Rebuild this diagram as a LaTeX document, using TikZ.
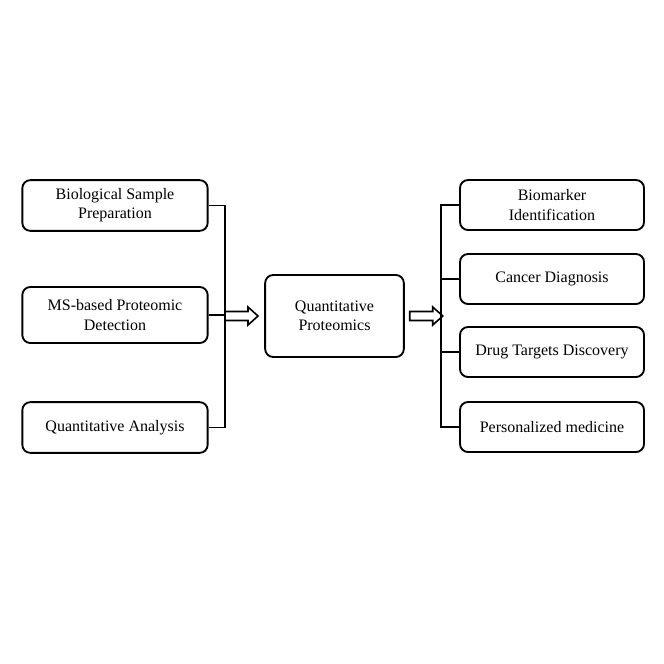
\documentclass[tikz,border=0pt]{standalone}
\usepackage{fontspec}
\setmainfont{Liberation Serif}
\usetikzlibrary{arrows.meta,positioning}
\tikzset{
  stepbox/.style={draw, line width=1.4pt, rounded corners=6pt, align=center,
    inner sep=0pt, font=\fontsize{12}{14.3}\selectfont},
  leftbox/.style={stepbox, minimum width=139pt, minimum height=38pt},
  rightbox/.style={stepbox, minimum width=138pt, minimum height=37.5pt},
  link/.style={line width=1.4pt},
  hollow/.style={line width=1.2pt, line join=miter}
}
\begin{document}
\begin{tikzpicture}[x=0.75pt,y=-0.75pt]
	%\draw[color=gray,step=10, help lines,opacity=0.3] (0,0) grid (664,664); %help grids
	\useasboundingbox (0,0) rectangle (664,664);
	% left column
	\node[leftbox] (bsp) at (115,205.5) {Biological Sample\\Preparation};
	\node[leftbox, minimum height=42pt] (msd) at (115,315) {MS-based Proteomic\\Detection};
	\node[leftbox] (qa) at (115,427.5) {Quantitative Analysis};
	% centre
	\node[stepbox, minimum width=104pt, minimum height=61.5pt] (qp) at (334.5,316) {Quantitative\\Proteomics};
	% right column
	\node[rightbox] (bi) at (552,205) {Biomarker\\Identification};
	\node[rightbox] (cd) at (552,279) {Cancer Diagnosis};
	\node[rightbox] (dtd) at (552,352) {Drug Targets Discovery};
	\node[rightbox] (pm) at (552,427) {Personalized medicine};

	\coordinate (tl) at (225,316);
	\coordinate (tr) at (441,316);

	\draw[link] (bsp.east) -| (tl);
	\draw[link] (qa.east) -| (tl);
	\draw[link] (msd.east) -- (msd.east -| tl);
	% hollow arrow into the centre box
	\draw[hollow] (tl) ++(0,-4.5) -- ++(23,0) -- ++(0,-4.5) -- ++(10,9)
		-- ++(-10,9) -- ++(0,-4.5) -- ++(-23,0) -- cycle;

	% hollow arrow out of the centre box
	\draw[hollow] (qp.east) ++(5,-4.5) -- ++(23,0) -- ++(0,-4.5) -- ++(10,9)
		-- ++(-10,9) -- ++(0,-4.5) -- ++(-23,0) -- cycle;
	\draw[link] (tr) |- (bi.west);
	\draw[link] (tr) |- (pm.west);
	\draw[link] (cd.west) -- (cd.west -| tr);
	\draw[link] (dtd.west) -- (dtd.west -| tr);
\end{tikzpicture}
\end{document}
